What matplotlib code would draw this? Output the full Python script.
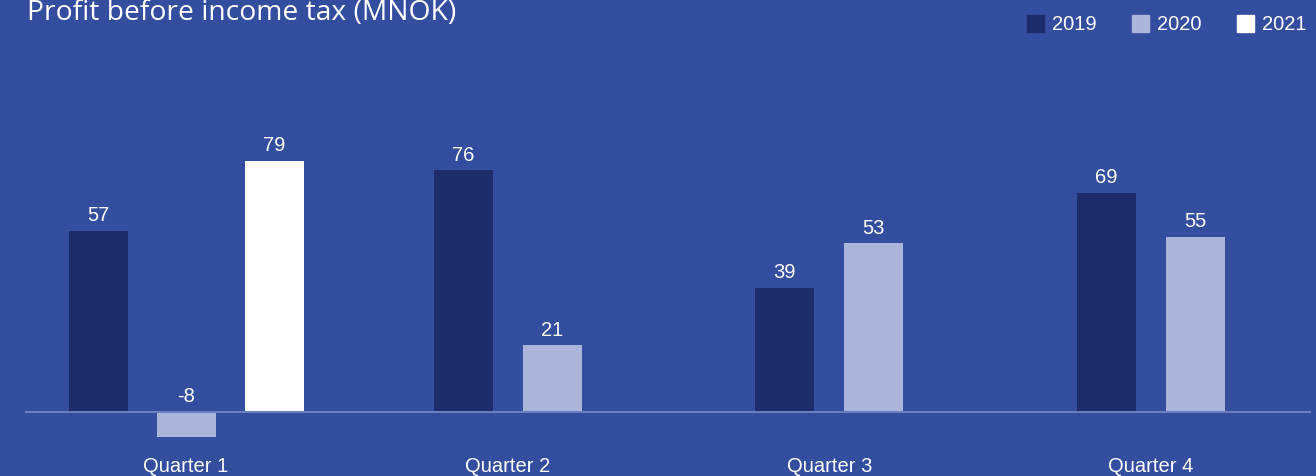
import numpy as np
from matplotlib import pyplot as plt
from matplotlib.patches import Rectangle

# data
quarters = ["Quarter 1", "Quarter 2", "Quarter 3", "Quarter 4"]
years = ["2019", "2020", "2021"]
values_2019 = [57, 76, 39, 69]
values_2020 = [-8, 21, 53, 55]
values_2021 = [79, None, None, None]

BG = "#344e9f"
colors = {"2019": "#1e2c6b", "2020": "#abb5da", "2021": "#ffffff"}
W, H = 1316, 477

fig = plt.figure(figsize=(W / 100, H / 100), dpi=100, facecolor=BG)
ax = fig.add_axes([0, 0, 1, 1])
ax.set_facecolor(BG)

group_px = 321.7
bar_w = 59 / group_px
ax.set_xlim(-186 / group_px, (W - 186) / group_px)
ppu = 3.18
base = 413
ax.set_ylim(-(H - base) / ppu, base / ppu)

series = {"2019": values_2019, "2020": values_2020, "2021": values_2021}
for i, q in enumerate(quarters):
    present = [y for y in years if series[y][i] is not None]
    spread = 88 / group_px if len(present) == 3 else 89 / group_px
    offsets = (np.arange(len(present)) - (len(present) - 1) / 2) * spread
    for off, y in zip(offsets, present):
        v = series[y][i]
        ax.bar(i + off, v, width=bar_w, color=colors[y], zorder=2)
        ax.text(i + off, max(v, 0) + 2.1, str(v), ha="center", va="bottom", color="white",
                fontsize=14.5, family="Liberation Sans")
    ax.text(i, -(467 - base) / ppu, q, ha="center", va="center", color="white",
            fontsize=14.5, family="Liberation Sans")

ax.axhline(0, xmin=26 / W, xmax=1310 / W, color="#6a7fc0", lw=1.5, zorder=3)
ax.axis("off")

# title, cut off at the top like the original
fig.text(27 / W, 1 - 19.5 / H, "Profit before income tax (MNOK)", color="white",
         fontsize=20.3, family="Open Sans", ha="left", va="baseline")

# legend
legend_x = [1027, 1132, 1237]
for x, y in zip(legend_x, years):
    fig.patches.append(Rectangle((x / W, 1 - 33 / H), 17 / W, 17 / H,
                                 transform=fig.transFigure, color=colors[y]))
    fig.text((x + 25) / W, 1 - 24.5 / H, y, color="white", fontsize=14.5,
             family="Liberation Sans", ha="left", va="center")

plt.savefig("out.png", dpi=100, facecolor=BG)
plt.close(fig)
